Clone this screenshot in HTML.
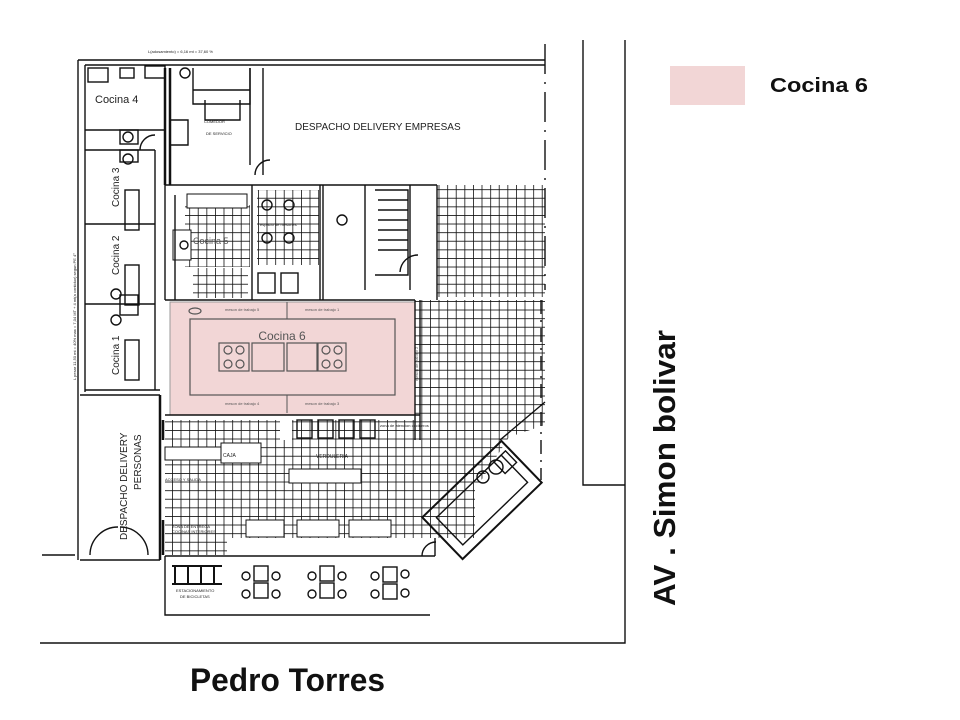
<!DOCTYPE html>
<html><head><meta charset="utf-8"><style>
html,body{margin:0;padding:0;background:#fff;}
svg{display:block;font-family:"Liberation Sans",sans-serif;}
</style></head><body>
<svg width="960" height="720" viewBox="0 0 960 720" xmlns="http://www.w3.org/2000/svg">
<defs>
<pattern id="t" width="8.6" height="8.6" patternUnits="userSpaceOnUse">
<rect width="8.6" height="8.6" fill="#fff"/>
<path d="M0 0H8.6M0 0V8.6" stroke="#111" stroke-width="1.6"/>
</pattern>
</defs>
<rect width="960" height="720" fill="#fff"/>

<rect x="165" y="420" width="310" height="118" fill="url(#t)"/>
<rect x="165" y="530" width="62" height="25" fill="url(#t)"/>
<polygon points="415,300 545,300 545,425 500,440 475,470 475,440 415,440" fill="url(#t)"/>
<polygon points="475,420 520,420 475,490" fill="url(#t)"/>
<rect x="437" y="185" width="108" height="112" fill="url(#t)"/>
<rect x="185" y="205" width="65" height="62" fill="url(#t)"/>
<rect x="257" y="190" width="62" height="75" fill="url(#t)"/>
<rect x="193" y="268" width="55" height="30" fill="url(#t)"/>

<g fill="#fff" stroke="#111" stroke-width="1">
<rect x="165" y="447" width="56" height="13"/>
<rect x="221" y="443" width="40" height="20"/>
<rect x="289" y="469" width="72" height="14"/>
<rect x="246" y="520" width="38" height="17"/>
<rect x="297" y="520" width="42" height="17"/>
<rect x="349" y="520" width="42" height="17"/>
<rect x="280" y="412" width="12" height="28" stroke="none"/>
<rect x="227" y="538" width="248" height="18" stroke="none"/>
<rect x="187" y="194" width="60" height="14"/>
<rect x="173" y="230" width="18" height="30"/>
<rect x="250" y="195" width="5" height="70" stroke="none"/>
</g>

<rect x="170" y="302" width="245" height="113" fill="#f2d6d6" stroke="#999" stroke-width="1"/>
<rect x="190" y="319" width="205" height="76" fill="none" stroke="#555" stroke-width="1.2"/>
<line x1="287" y1="302" x2="287" y2="319" stroke="#555"/>
<line x1="287" y1="395" x2="287" y2="413" stroke="#555"/>
<g fill="none" stroke="#555" stroke-width="1.2">
<rect x="219" y="343" width="30" height="28"/><rect x="252" y="343" width="32" height="28"/>
<rect x="287" y="343" width="30" height="28"/><rect x="318" y="343" width="28" height="28"/>
<circle cx="228" cy="350" r="4"/><circle cx="240" cy="350" r="4"/><circle cx="228" cy="364" r="4"/><circle cx="240" cy="364" r="4"/>
<circle cx="326" cy="350" r="4"/><circle cx="338" cy="350" r="4"/><circle cx="326" cy="364" r="4"/><circle cx="338" cy="364" r="4"/>
<ellipse cx="195" cy="311" rx="6" ry="3"/>
</g>
<text x="282" y="340" font-size="12" fill="#555" text-anchor="middle">Cocina 6</text>
<g font-size="4" fill="#555">
<text x="225" y="311">meson de trabajo 5</text><text x="305" y="311">meson de trabajo 1</text>
<text x="225" y="405">meson de trabajo 4</text><text x="305" y="405">meson de trabajo 3</text>
<text x="387" y="380" transform="rotate(-90 403 365)">meson de trabajo 2</text>
</g>

<g fill="none" stroke="#111" stroke-width="1.4">
<path d="M78 60H545M78 60V560M85 65V392M40 643H625V40M583 40V485H625"/>
<line x1="545" y1="44" x2="545" y2="290" stroke-dasharray="30,8,2,8"/>
<line x1="541" y1="300" x2="541" y2="480" stroke-dasharray="14,6,2,6"/>
<path d="M85 65H545M85 130H165M85 150H155M155 150V390M85 224H155M85 304H155M85 390H160"/>
<path d="M165 68V185M170 68V185" stroke-width="2.5"/>
<path d="M193 68V90H250V68M193 90V104H250V90M205 100V120H240V100"/>
<path d="M250 68V165M263 68V165M263 165V175"/>
<path d="M255 175A15 15 0 0 1 270 160"/>
<path d="M170 120H188V145H170"/>
<rect x="88" y="68" width="20" height="14"/><rect x="120" y="68" width="14" height="10"/>
<rect x="145" y="66" width="20" height="12"/><rect x="120" y="130" width="18" height="14"/>
<rect x="120" y="150" width="18" height="12"/><rect x="125" y="190" width="14" height="40"/>
<rect x="125" y="265" width="14" height="40"/><rect x="120" y="295" width="18" height="20"/>
<rect x="125" y="340" width="14" height="40"/>
<circle cx="128" cy="137" r="5"/><circle cx="128" cy="159" r="5"/><circle cx="116" cy="294" r="5"/><circle cx="116" cy="320" r="5"/>
<circle cx="185" cy="73" r="5"/>
<path d="M140 150A15 15 0 0 1 155 135"/>
<path d="M165 185H437M165 185V300M175 195V300M252 185V300M320 185V300M323 185V300"/>
<path d="M365 185V290M410 185V290M437 185V300"/>
<path d="M165 300H415M415 300V440M420 300V440"/>
<path d="M375 190H408V275H375"/>
<path d="M378 200H408M378 210H408M378 220H408M378 230H408M378 240H408M378 250H408"/>
<path d="M400 272A18 18 0 0 1 418 255"/>
<rect x="258" y="273" width="17" height="20"/><rect x="281" y="273" width="17" height="20"/>
<circle cx="267" cy="205" r="5"/><circle cx="289" cy="205" r="5"/><circle cx="267" cy="238" r="5"/><circle cx="289" cy="238" r="5"/>
<circle cx="342" cy="220" r="5"/><circle cx="184" cy="245" r="4"/>
<path d="M160 395V560M163 420V440M163 520V555" stroke-width="2.5"/>
<path d="M80 395H160M80 560H160"/>
<path d="M90 555A28 28 0 0 1 118 527M148 555A28 28 0 0 0 120 527"/>
<path d="M165 415H420"/>
<rect x="297" y="420" width="15" height="18"/><rect x="318" y="420" width="15" height="18"/>
<rect x="339" y="420" width="15" height="18"/><rect x="360" y="420" width="15" height="18"/>
<path d="M165 556H435M165 556V615H430M435 538V556"/>
<path d="M42 555H75M422 556A14 14 0 0 1 436 542"/>
<g transform="rotate(-44 482 500)">
<rect x="427" y="471" width="110" height="58" stroke-width="2"/>
<rect x="437" y="481" width="90" height="38"/>
<rect x="517" y="481" width="16" height="16"/>
</g>
<line x1="500" y1="440" x2="545" y2="402" stroke-width="1.4"/>
<circle cx="496" cy="467" r="7"/><circle cx="483" cy="477" r="6"/>
<path d="M172 566H222M172 584H222M175 566V584M188 566V584M201 566V584M214 566V584" stroke-width="2"/>
<rect x="254" y="566" width="14" height="15"/><rect x="254" y="583" width="14" height="15"/>
<rect x="320" y="566" width="14" height="15"/><rect x="320" y="583" width="14" height="15"/>
<rect x="383" y="567" width="14" height="15"/><rect x="383" y="584" width="14" height="15"/>
<circle cx="246" cy="576" r="4"/><circle cx="276" cy="576" r="4"/><circle cx="246" cy="594" r="4"/><circle cx="276" cy="594" r="4"/>
<circle cx="312" cy="576" r="4"/><circle cx="342" cy="576" r="4"/><circle cx="312" cy="594" r="4"/><circle cx="342" cy="594" r="4"/>
<circle cx="375" cy="576" r="4"/><circle cx="405" cy="574" r="4"/><circle cx="375" cy="594" r="4"/><circle cx="405" cy="593" r="4"/>
</g>

<g fill="#222">
<text x="95" y="103" font-size="11">Cocina 4</text>
<text x="295" y="130" font-size="10">DESPACHO DELIVERY EMPRESAS</text>
<text font-size="10" transform="translate(119 207) rotate(-90)">Cocina 3</text>
<text font-size="10" transform="translate(119 275) rotate(-90)">Cocina 2</text>
<text font-size="10" transform="translate(119 375) rotate(-90)">Cocina 1</text>
<text font-size="10" transform="translate(127 540) rotate(-90)">DESPACHO DELIVERY</text>
<text font-size="10" transform="translate(141 490) rotate(-90)">PERSONAS</text>
<text font-size="4" transform="translate(76 380) rotate(-90)">L pesar 11,50 mt = 40% max = 7,04 MT + 4 mt(a contiduo) segun PE 4°</text>
<text x="193" y="244" font-size="9" fill="#555">Cocina 5</text>
<text x="148" y="53" font-size="4">L(adosamiento) = 6,16 mt = 37,60 %</text>
<text x="204" y="123" font-size="4">COMEDOR</text><text x="206" y="135" font-size="4">DE SERVICIO</text>
<text x="260" y="226" font-size="4">espacio de mesones</text>
<text x="223" y="457" font-size="5">CAJA</text>
<text x="316" y="458" font-size="5">VERDULERIA</text>
<text x="165" y="481" font-size="4">ACCESO Y SALIDA</text>
<text x="172" y="528" font-size="4">ZONA DE ENTREGA</text>
<text x="172" y="533" font-size="4">COCINAS INTERIORES</text>
<text x="176" y="592" font-size="4">ESTACIONAMIENTO</text><text x="180" y="598" font-size="4">DE BICICLETAS</text>
<text x="380" y="427" font-size="4">zona de atencion cocineros</text>
</g>

<rect x="670" y="66" width="75" height="39" fill="#f2d6d6"/>
<text x="770" y="92" font-size="20" font-weight="bold" fill="#111" textLength="98" lengthAdjust="spacingAndGlyphs">Cocina 6</text>
<text x="190" y="691" font-size="32" font-weight="bold" fill="#111" textLength="195" lengthAdjust="spacingAndGlyphs">Pedro Torres</text>
<text font-size="31" font-weight="bold" fill="#111" transform="translate(675 606) rotate(-90)" textLength="276" lengthAdjust="spacingAndGlyphs">AV . Simon bolivar</text>
</svg>
</body></html>
